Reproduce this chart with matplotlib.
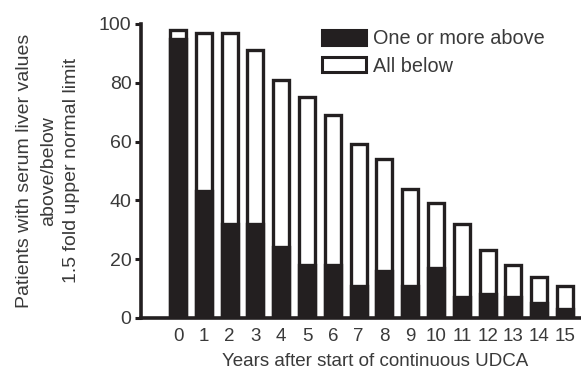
import matplotlib
matplotlib.use('Agg')
import matplotlib.pyplot as plt
import numpy as np
from matplotlib.patches import Rectangle

plt.rcParams['font.family'] = ['Liberation Sans', 'DejaVu Sans']

years = list(range(16))
total = [98, 97, 97, 91, 81, 75, 69, 59, 54, 44, 39, 32, 23, 18, 14, 11]
above = [95, 43, 32, 32, 24, 18, 18, 11, 16, 11, 17, 7, 8, 7, 5, 3]
legend_labels = ['One or more above', 'All below']

ink = '#231f20'
txt = '#3a3a3a'

fig = plt.figure(figsize=(5.81, 3.74), dpi=100)
ax = fig.add_axes([0.243, 0.150, 0.757, 0.786])

w = 0.62
ax.bar(years, total, width=w, color='white', edgecolor=ink, linewidth=2.4, zorder=2)
ax.bar(years, above, width=w, color=ink, edgecolor=ink, linewidth=2.4, zorder=3)

ax.set_xlim(-1.43, 15.62)
ax.set_ylim(0, 100)
ax.set_yticks([0, 20, 40, 60, 80, 100])
ax.set_xticks(years)
ax.tick_params(axis='y', length=4, width=2.2, color=ink, labelsize=14, labelcolor=txt, pad=3)
ax.tick_params(axis='x', length=0, labelsize=13.5, labelcolor=txt, pad=7)
for s in ['top', 'right']:
    ax.spines[s].set_visible(False)
for s in ['left', 'bottom']:
    ax.spines[s].set_linewidth(2.6)
    ax.spines[s].set_color(ink)

ax.set_xlabel('Years after start of continuous UDCA', fontsize=13.5, color=txt)
ax.xaxis.set_label_coords(0.532, -0.12)
ax.set_ylabel('Patients with serum liver values\nabove/below\n1.5 fold upper normal limit',
              fontsize=14, color=txt, linespacing=1.5)
ax.yaxis.set_label_coords(-0.138, 0.5)

# legend drawn by hand in figure coords
rect_w, rect_h = 44 / 581, 15 / 374
fig.patches.append(Rectangle((322 / 581, 1 - 45 / 374), rect_w, rect_h, transform=fig.transFigure,
                             facecolor=ink, edgecolor=ink, linewidth=2.2))
fig.patches.append(Rectangle((322 / 581, 1 - 72 / 374), rect_w, rect_h, transform=fig.transFigure,
                             facecolor='white', edgecolor=ink, linewidth=2.2))
fig.text(373 / 581, 1 - 39 / 374, legend_labels[0], fontsize=14.3, color=txt, va='center')
fig.text(373 / 581, 1 - 66 / 374, legend_labels[1], fontsize=14.3, color=txt, va='center')

fig.savefig('out.png', dpi=100)
